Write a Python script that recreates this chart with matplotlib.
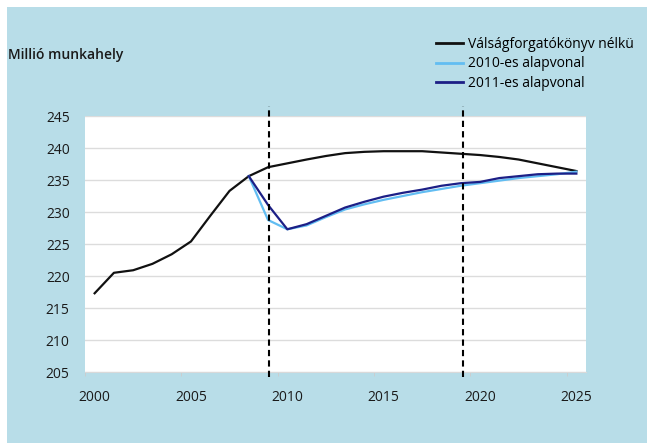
import matplotlib
matplotlib.use("Agg")
from matplotlib import pyplot as plt
from matplotlib.patches import Rectangle

plt.rcParams['font.family'] = ['Open Sans', 'DejaVu Sans']

years = list(range(2000, 2026))

no_crisis = [217.3, 220.5, 220.9, 221.9, 223.4, 225.4, 229.4, 233.3, 235.6,
             237.0, 237.6, 238.2, 238.75, 239.2, 239.4, 239.5, 239.5, 239.5,
             239.3, 239.1, 238.9, 238.6, 238.2, 237.6, 237.0, 236.4]

base_2010 = [None] * 8 + [235.6, 228.75, 227.3, 227.9, 229.2, 230.4, 231.2,
                          231.9, 232.5, 233.1, 233.6, 234.1, 234.5, 234.9,
                          235.3, 235.6, 235.9, 236.3]

base_2011 = [None] * 8 + [235.6, 231.1, 227.3, 228.1, 229.4, 230.7, 231.6,
                          232.4, 233.0, 233.5, 234.1, 234.5, 234.7, 235.3,
                          235.6, 235.9, 236.0, 236.0]

markers_x = [2009.05, 2019.1]

labels = ["Válságforgatókönyv nélkü", "2010-es alapvonal", "2011-es alapvonal"]
colors = ["#111111", "#62bdf2", "#1c1f86"]


def xy(series):
    pts = [(x, y) for x, y in zip(years, series) if y is not None]
    return [p[0] for p in pts], [p[1] for p in pts]


W, H = 652, 443
fig = plt.figure(figsize=(W / 100, H / 100), dpi=100)
fig.patches.append(Rectangle((7 / W, 0), (647 - 7) / W, (H - 7) / H,
                             transform=fig.transFigure, facecolor="#b8dde8",
                             edgecolor="none", zorder=-10))

ax = fig.add_axes([85 / W, (H - 372) / H, (586 - 85) / W, (372 - 116) / H])
ax.set_facecolor("white")

for series, lab, col in zip([no_crisis, base_2010, base_2011], labels, colors):
    xs, ys = xy(series)
    ax.plot(xs, ys, color=col, linewidth=1.6, label=lab)

for xm in markers_x:
    ax.axvline(xm, ymin=-0.02, ymax=1.04, color="black", linestyle=(0, (3, 2)),
               linewidth=1.5, clip_on=False, zorder=5)

ax.set_xlim(1999.5, 2025.5)
ax.set_ylim(205, 245)
ax.set_yticks(range(205, 246, 5))
ax.grid(axis="y", color="#dcdcdc", linewidth=1)
ax.set_axisbelow(True)

# labels centred on categories, tick marks between them
ax.set_xticks(range(2000, 2026, 5))
ax.set_xticks([1999.5 + 5 * k for k in range(6)], minor=True)
ax.tick_params(axis="x", which="major", length=0, pad=13, labelsize=10,
               labelcolor="#1a1a1a")
ax.tick_params(axis="x", which="minor", length=3, color="#cccccc", direction="out")
ax.tick_params(axis="y", length=0, pad=11, labelsize=10, labelcolor="#1a1a1a")

for s in ["top", "right", "left"]:
    ax.spines[s].set_visible(False)
ax.spines["bottom"].set_color("#d9d9d9")

fig.text(8 / W, 1 - 55 / H, "Millió munkahely", fontsize=10, fontweight="semibold",
         va="center", ha="left", color="#1a1a1a")

leg = fig.legend(loc="upper left", bbox_to_anchor=(430 / W, 1 - 31 / H),
                 frameon=False, fontsize=10, handlelength=2.0, handletextpad=0.3,
                 labelspacing=0.35, borderaxespad=0)
for line in leg.get_lines():
    line.set_linewidth(2)

fig.savefig("out.png", dpi=100)
